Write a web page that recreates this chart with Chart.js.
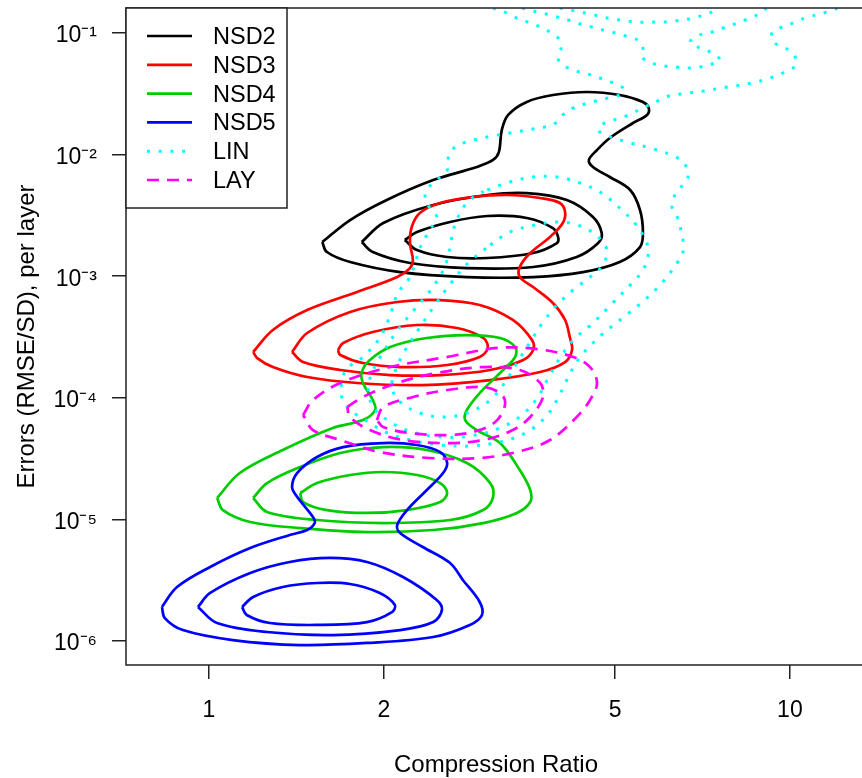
<!DOCTYPE html>
<html>
<head>
<meta charset="utf-8">
<script src="https://cdn.jsdelivr.net/npm/chart.js@4.4.1/dist/chart.umd.min.js"></script>
<style>
  html, body { margin: 0; padding: 0; background: #fff; overflow: hidden; }
  canvas { display: block; }
</style>
</head>
<body>
<canvas id="grafico" width="870" height="778"></canvas>
<script>
// Eixos
const xTicks = [1, 2, 5, 10];
const yTicks = [1e-1, 1e-2, 1e-3, 1e-4, 1e-5, 1e-6];
const yTickLabels = ["10⁻¹", "10⁻²", "10⁻³", "10⁻⁴", "10⁻⁵", "10⁻⁶"];
const xRange = [0.7197, 13.52];
const yRange = [6.35e-7, 0.1606];

// Contornos como [log10(razão de compressão), log10(erro)]
const nsd2Outer = [[0.195,-2.719],[0.243,-2.538],[0.306,-2.373],[0.386,-2.209],[0.461,-2.102],[0.489,-2.044],[0.499,-1.979],[0.504,-1.798],[0.515,-1.674],[0.547,-1.567],[0.592,-1.510],[0.651,-1.485],[0.707,-1.510],[0.747,-1.567],[0.757,-1.617],[0.754,-1.674],[0.730,-1.740],[0.690,-1.863],[0.668,-1.962],[0.654,-2.044],[0.661,-2.102],[0.690,-2.184],[0.725,-2.291],[0.742,-2.456],[0.747,-2.645],[0.742,-2.760],[0.707,-2.883],[0.644,-2.966],[0.558,-3.007],[0.444,-3.007],[0.329,-2.966],[0.243,-2.883],[0.203,-2.801]];
const nsd2Mid = [[0.263,-2.719],[0.300,-2.562],[0.386,-2.414],[0.479,-2.332],[0.547,-2.316],[0.616,-2.373],[0.661,-2.513],[0.676,-2.645],[0.670,-2.727],[0.633,-2.842],[0.558,-2.924],[0.444,-2.933],[0.346,-2.891],[0.282,-2.801]];
const nsd2Inner = [[0.337,-2.702],[0.358,-2.637],[0.415,-2.554],[0.479,-2.505],[0.547,-2.521],[0.592,-2.604],[0.601,-2.678],[0.599,-2.727],[0.558,-2.809],[0.479,-2.850],[0.410,-2.842],[0.358,-2.785]];

const nsd3Outer = [[0.076,-3.623],[0.110,-3.442],[0.169,-3.278],[0.255,-3.130],[0.324,-3.007],[0.346,-2.933],[0.351,-2.867],[0.346,-2.727],[0.349,-2.595],[0.363,-2.480],[0.398,-2.398],[0.454,-2.349],[0.513,-2.332],[0.570,-2.357],[0.604,-2.398],[0.613,-2.472],[0.609,-2.562],[0.587,-2.678],[0.553,-2.809],[0.535,-2.924],[0.535,-3.007],[0.558,-3.089],[0.592,-3.220],[0.613,-3.360],[0.621,-3.500],[0.625,-3.607],[0.613,-3.706],[0.570,-3.788],[0.484,-3.854],[0.368,-3.895],[0.255,-3.878],[0.169,-3.829],[0.110,-3.747],[0.083,-3.673]];
const nsd3Mid = [[0.143,-3.623],[0.169,-3.467],[0.243,-3.294],[0.324,-3.212],[0.398,-3.196],[0.466,-3.237],[0.523,-3.360],[0.556,-3.525],[0.558,-3.607],[0.541,-3.689],[0.484,-3.771],[0.398,-3.813],[0.312,-3.813],[0.226,-3.771],[0.162,-3.706]];
const nsd3Inner = [[0.222,-3.607],[0.231,-3.549],[0.282,-3.459],[0.358,-3.401],[0.427,-3.426],[0.472,-3.508],[0.480,-3.590],[0.466,-3.664],[0.410,-3.730],[0.329,-3.747],[0.265,-3.714],[0.226,-3.648]];

const nsd4Outer = [[0.014,-4.824],[0.053,-4.618],[0.127,-4.429],[0.213,-4.248],[0.265,-4.183],[0.286,-4.100],[0.282,-4.018],[0.265,-3.878],[0.263,-3.788],[0.277,-3.689],[0.312,-3.582],[0.375,-3.508],[0.444,-3.484],[0.501,-3.508],[0.527,-3.582],[0.527,-3.664],[0.501,-3.796],[0.466,-3.961],[0.444,-4.100],[0.441,-4.183],[0.461,-4.265],[0.501,-4.372],[0.535,-4.594],[0.553,-4.758],[0.553,-4.857],[0.530,-4.947],[0.472,-5.030],[0.386,-5.087],[0.272,-5.104],[0.157,-5.071],[0.071,-5.021],[0.024,-4.923]];
const nsd4Mid = [[0.076,-4.824],[0.100,-4.701],[0.157,-4.569],[0.226,-4.454],[0.300,-4.405],[0.375,-4.429],[0.444,-4.536],[0.484,-4.701],[0.489,-4.816],[0.472,-4.923],[0.415,-5.005],[0.300,-5.030],[0.186,-5.005],[0.100,-4.939]];
const nsd4Inner = [[0.157,-4.783],[0.186,-4.701],[0.243,-4.635],[0.300,-4.610],[0.358,-4.635],[0.398,-4.701],[0.410,-4.783],[0.398,-4.857],[0.341,-4.923],[0.272,-4.947],[0.203,-4.923],[0.162,-4.857]];

const nsd5Outer = [[-0.081,-5.720],[-0.055,-5.556],[0.002,-5.391],[0.071,-5.235],[0.139,-5.128],[0.169,-5.087],[0.182,-5.030],[0.179,-4.980],[0.152,-4.816],[0.143,-4.734],[0.152,-4.618],[0.186,-4.487],[0.231,-4.405],[0.300,-4.372],[0.358,-4.388],[0.398,-4.446],[0.410,-4.536],[0.403,-4.618],[0.375,-4.758],[0.341,-4.923],[0.324,-5.046],[0.329,-5.112],[0.368,-5.227],[0.415,-5.359],[0.437,-5.498],[0.466,-5.679],[0.470,-5.786],[0.449,-5.868],[0.386,-5.967],[0.272,-6.016],[0.157,-6.033],[0.041,-5.992],[-0.045,-5.910],[-0.076,-5.811]];
const nsd5Mid = [[-0.019,-5.720],[0.002,-5.605],[0.071,-5.441],[0.139,-5.350],[0.208,-5.317],[0.272,-5.350],[0.334,-5.474],[0.392,-5.663],[0.401,-5.745],[0.386,-5.844],[0.329,-5.910],[0.213,-5.951],[0.100,-5.926],[0.014,-5.852]];
const nsd5Inner = [[0.057,-5.720],[0.076,-5.638],[0.127,-5.556],[0.186,-5.523],[0.243,-5.531],[0.294,-5.605],[0.320,-5.704],[0.315,-5.762],[0.272,-5.844],[0.186,-5.868],[0.105,-5.852],[0.065,-5.786]];

const linOuter = [[0.489,-0.794],[0.513,-0.836],[0.530,-0.877],[0.549,-0.910],[0.570,-0.951],[0.587,-0.992],[0.601,-1.041],[0.606,-1.123],[0.601,-1.214],[0.615,-1.280],[0.633,-1.313],[0.652,-1.337],[0.673,-1.370],[0.692,-1.403],[0.711,-1.444],[0.714,-1.477],[0.706,-1.510],[0.687,-1.535],[0.666,-1.559],[0.647,-1.584],[0.627,-1.617],[0.609,-1.674],[0.597,-1.740],[0.578,-1.773],[0.558,-1.789],[0.518,-1.822],[0.479,-1.855],[0.437,-1.905],[0.420,-1.954],[0.411,-2.044],[0.410,-2.127],[0.394,-2.201],[0.377,-2.275],[0.372,-2.349],[0.380,-2.439],[0.392,-2.513],[0.380,-2.620],[0.363,-2.768],[0.355,-2.891],[0.343,-3.031],[0.325,-3.138],[0.312,-3.319],[0.294,-3.508],[0.265,-3.664],[0.239,-3.755],[0.229,-3.854],[0.229,-4.002],[0.243,-4.100],[0.269,-4.183],[0.303,-4.281],[0.346,-4.347],[0.398,-4.388],[0.449,-4.396],[0.501,-4.364],[0.544,-4.290],[0.578,-4.166],[0.599,-4.018],[0.616,-3.854],[0.635,-3.689],[0.661,-3.549],[0.690,-3.426],[0.725,-3.294],[0.754,-3.179],[0.781,-3.048],[0.806,-2.891],[0.816,-2.801],[0.816,-2.702],[0.806,-2.513],[0.797,-2.431],[0.802,-2.332],[0.814,-2.258],[0.825,-2.176],[0.819,-2.077],[0.804,-2.020],[0.766,-1.954],[0.726,-1.905],[0.687,-1.847],[0.670,-1.798],[0.678,-1.748],[0.697,-1.715],[0.718,-1.683],[0.754,-1.600],[0.773,-1.559],[0.792,-1.518],[0.812,-1.502],[0.852,-1.477],[0.892,-1.444],[0.935,-1.411],[0.971,-1.362],[0.991,-1.321],[1.009,-1.271],[1.009,-1.197],[0.995,-1.132],[0.974,-1.082],[0.969,-1.000],[0.986,-0.951],[1.005,-0.918],[1.026,-0.877],[1.064,-0.827],[1.083,-0.794]];
const linTopA = [[0.604,-0.794],[0.621,-0.811],[0.639,-0.827],[0.658,-0.844],[0.676,-0.868],[0.697,-0.885],[0.718,-0.901],[0.738,-0.910],[0.757,-0.910],[0.780,-0.910],[0.799,-0.901],[0.819,-0.893],[0.840,-0.868],[0.859,-0.844],[0.876,-0.794]];
const linTopB = [[0.539,-0.794],[0.559,-0.819],[0.580,-0.844],[0.599,-0.868],[0.618,-0.893],[0.639,-0.926],[0.659,-0.951],[0.678,-0.975],[0.699,-1.000],[0.718,-1.025],[0.738,-1.058],[0.747,-1.123],[0.745,-1.197],[0.763,-1.247],[0.783,-1.271],[0.804,-1.280],[0.825,-1.288],[0.845,-1.280],[0.866,-1.255],[0.880,-1.222],[0.866,-1.164],[0.845,-1.123],[0.828,-1.074],[0.845,-1.016],[0.866,-0.992],[0.885,-0.959],[0.905,-0.926],[0.923,-0.893],[0.943,-0.852],[0.960,-0.794]];
const linMid = [[0.479,-2.291],[0.518,-2.225],[0.558,-2.184],[0.599,-2.184],[0.639,-2.234],[0.676,-2.316],[0.707,-2.439],[0.737,-2.587],[0.756,-2.760],[0.754,-2.867],[0.745,-2.966],[0.730,-3.048],[0.695,-3.220],[0.661,-3.385],[0.627,-3.525],[0.604,-3.673],[0.584,-3.837],[0.565,-4.002],[0.539,-4.141],[0.501,-4.248],[0.449,-4.314],[0.398,-4.322],[0.349,-4.281],[0.312,-4.199],[0.284,-4.084],[0.274,-3.936],[0.281,-3.788],[0.300,-3.623],[0.325,-3.442],[0.353,-3.278],[0.379,-3.130],[0.399,-2.990],[0.411,-2.850],[0.417,-2.702],[0.425,-2.554],[0.441,-2.414],[0.458,-2.340]];
const linInner = [[0.484,-2.743],[0.518,-2.637],[0.561,-2.579],[0.604,-2.554],[0.639,-2.587],[0.668,-2.669],[0.685,-2.785],[0.678,-2.908],[0.656,-3.007],[0.627,-3.113],[0.599,-3.237],[0.575,-3.377],[0.553,-3.541],[0.530,-3.714],[0.510,-3.870],[0.484,-4.018],[0.449,-4.117],[0.406,-4.158],[0.363,-4.125],[0.329,-4.034],[0.315,-3.919],[0.320,-3.788],[0.336,-3.623],[0.360,-3.442],[0.389,-3.237],[0.418,-3.048],[0.446,-2.891]];

const layOuter = [[0.162,-4.141],[0.179,-4.018],[0.226,-3.878],[0.312,-3.747],[0.410,-3.664],[0.496,-3.590],[0.565,-3.599],[0.627,-3.664],[0.656,-3.747],[0.668,-3.878],[0.656,-4.018],[0.633,-4.158],[0.587,-4.347],[0.530,-4.446],[0.466,-4.495],[0.380,-4.495],[0.294,-4.446],[0.226,-4.347],[0.179,-4.265]];
const layMid = [[0.238,-4.076],[0.265,-3.993],[0.324,-3.878],[0.392,-3.796],[0.472,-3.747],[0.535,-3.771],[0.570,-3.878],[0.575,-3.993],[0.553,-4.158],[0.523,-4.265],[0.472,-4.347],[0.410,-4.372],[0.334,-4.347],[0.277,-4.265],[0.243,-4.158]];
const layInner = [[0.289,-4.183],[0.300,-4.076],[0.351,-3.993],[0.410,-3.936],[0.472,-3.911],[0.501,-3.961],[0.510,-4.043],[0.496,-4.183],[0.466,-4.265],[0.415,-4.306],[0.346,-4.290],[0.300,-4.240]];

// Séries (ordem da legenda) e estilo de cada uma
const series = [
  { nome: "NSD2", cor: "#000000", largura: 2.7, tracejado: [], fechados: [nsd2Outer, nsd2Mid, nsd2Inner], abertos: [] },
  { nome: "NSD3", cor: "#FF0000", largura: 2.7, tracejado: [], fechados: [nsd3Outer, nsd3Mid, nsd3Inner], abertos: [] },
  { nome: "NSD4", cor: "#00CD00", largura: 2.7, tracejado: [], fechados: [nsd4Outer, nsd4Mid, nsd4Inner], abertos: [] },
  { nome: "NSD5", cor: "#0000FF", largura: 2.7, tracejado: [], fechados: [nsd5Outer, nsd5Mid, nsd5Inner], abertos: [] },
  { nome: "LIN", cor: "#00FFFF", largura: 3, tracejado: [3, 8.7], fechados: [linMid, linInner], abertos: [linOuter, linTopA, linTopB] },
  { nome: "LAY", cor: "#FF00FF", largura: 2.7, tracejado: [12, 8], fechados: [layOuter, layMid, layInner], abertos: [] }
];

const fonte = '"Liberation Sans", Arimo, Arial, sans-serif';

// Converte vértices log10 em pontos do gráfico
function paraPontos(contorno, fechado) {
  const pts = contorno.map(([lx, ly]) => ({ x: Math.pow(10, lx), y: Math.pow(10, ly) }));
  if (fechado) pts.push(pts[0]);
  return pts;
}

function montarDatasets() {
  const lista = [];
  series.forEach(s => {
    const base = {
      label: s.nome,
      borderColor: s.cor,
      borderWidth: s.largura,
      borderDash: s.tracejado,
      showLine: true,
      pointRadius: 0,
      tension: 0.35,
      fill: false
    };
    s.fechados.forEach(c => lista.push({ ...base, data: paraPontos(c, true) }));
    s.abertos.forEach(c => lista.push({ ...base, data: paraPontos(c, false) }));
  });
  // o primeiro dataset fica por cima, então invertemos
  return lista.reverse();
}

// Moldura do gráfico e legenda no canto
const molduraPlugin = {
  id: "moldura",
  afterDraw(chart) {
    const { ctx, chartArea: a } = chart;
    ctx.save();
    ctx.strokeStyle = "#222";
    ctx.lineWidth = 1.5;
    ctx.strokeRect(a.left, a.top, a.right - a.left, a.bottom - a.top);

    const lx = a.left, ly = a.top, lw = 161, lh = 200;
    ctx.fillStyle = "#fff";
    ctx.fillRect(lx, ly, lw, lh);
    ctx.strokeRect(lx, ly, lw, lh);

    ctx.font = "23.5px " + fonte;
    ctx.textBaseline = "middle";
    ctx.textAlign = "left";
    series.forEach((s, i) => {
      const y = ly + 28 + i * 28.8;
      ctx.beginPath();
      ctx.strokeStyle = s.cor;
      ctx.lineWidth = s.largura;
      ctx.setLineDash(s.tracejado);
      ctx.moveTo(lx + 21, y);
      ctx.lineTo(lx + 66, y);
      ctx.stroke();
      ctx.setLineDash([]);
      ctx.fillStyle = "#000";
      ctx.fillText(s.nome, lx + 87, y + 1.5);
    });
    ctx.restore();
  }
};

function renderizarGrafico() {
  const ctx = document.getElementById("grafico").getContext("2d");
  new Chart(ctx, {
    type: "scatter",
    data: { datasets: montarDatasets() },
    options: {
      responsive: false,
      animation: false,
      events: [],
      layout: { padding: { top: 8, right: 4, left: 0, bottom: 0 } },
      plugins: {
        legend: { display: false },
        tooltip: { enabled: false }
      },
      scales: {
        x: {
          type: "logarithmic",
          bounds: "data",
          min: xRange[0],
          max: xRange[1],
          afterBuildTicks: s => { s.ticks = xTicks.map(v => ({ value: v })); },
          afterFit: s => {
            s.height = 113;
            s.paddingLeft = 0;
            s.paddingRight = 0;
          },
          ticks: {
            callback: v => String(v),
            color: "#000",
            font: { size: 23, family: fonte },
            padding: 18,
            maxRotation: 0,
            autoSkip: false
          },
          grid: { drawOnChartArea: false, drawTicks: true, tickLength: 14, color: "#222", lineWidth: 1.5 },
          border: { display: false },
          title: {
            display: true,
            text: "Compression Ratio",
            color: "#000",
            font: { size: 24, family: fonte },
            padding: { top: 0, bottom: -2 }
          }
        },
        y: {
          type: "logarithmic",
          bounds: "data",
          min: yRange[0],
          max: yRange[1],
          afterBuildTicks: s => { s.ticks = yTicks.map(v => ({ value: v })); },
          afterFit: s => {
            s.width = 126;
            s.paddingTop = 0;
            s.paddingBottom = 0;
          },
          ticks: {
            callback: v => yTickLabels[yTicks.findIndex(t => Math.abs(Math.log10(t) - Math.log10(v)) < 1e-6)],
            color: "#000",
            font: { size: 23, family: fonte },
            padding: 15,
            labelOffset: 3,
            autoSkip: false
          },
          grid: { drawOnChartArea: false, drawTicks: true, tickLength: 14, color: "#222", lineWidth: 1.5 },
          border: { display: false },
          title: {
            display: true,
            text: "Errors (RMSE/SD), per layer",
            color: "#000",
            font: { size: 24, family: fonte },
            padding: { top: 13, bottom: 0 }
          }
        }
      }
    },
    plugins: [molduraPlugin]
  });
}

document.addEventListener("DOMContentLoaded", renderizarGrafico);
</script>
</body>
</html>
